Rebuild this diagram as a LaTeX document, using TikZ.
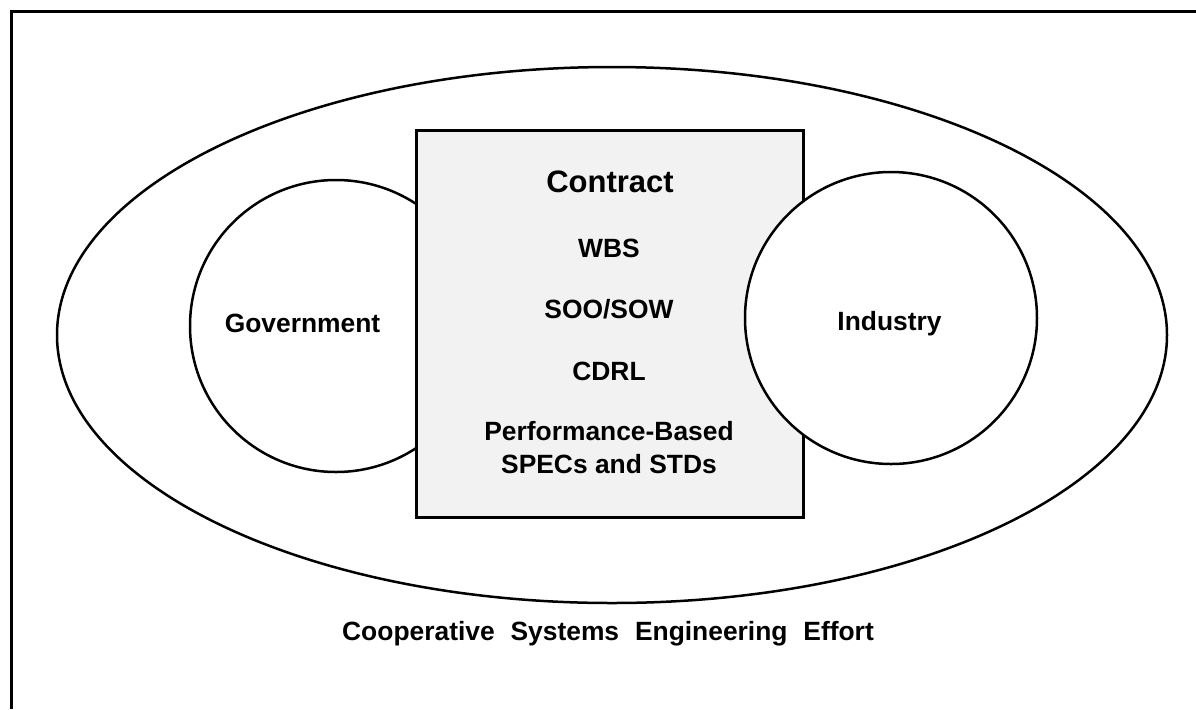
\documentclass[tikz,border=0pt]{standalone}
\usepackage{fontspec}
\setmainfont{Liberation Sans}
\usetikzlibrary{shapes.geometric}
\begin{document}
\begin{tikzpicture}[x=0.5pt,y=-0.5pt,
  outline/.style={draw=black,line width=1.25pt,inner sep=0pt},
  lbl/.style={font=\bfseries\fontsize{13.2}{15}\selectfont,inner sep=0pt,anchor=base},
  big/.style={font=\bfseries\fontsize{15.5}{18}\selectfont,inner sep=0pt,anchor=base}]
\useasboundingbox (0,0) rectangle (1196,709);
\coordinate (frameTR) at (1196,11);
\coordinate (frameTL) at (11,11);
\coordinate (frameBL) at (11,709);
\draw[line width=1.5pt,line join=miter] (frameTR) -- (frameTL) -- (frameBL);
\node[ellipse,outline,minimum width=555pt,minimum height=268pt] (effort) at (612,335) {};
\node[circle,outline,fill=white,minimum size=146pt] (gov) at (336,326) {};
\node[draw=black,line width=1.5pt,fill=black!5,minimum width=193.5pt,minimum height=193.5pt,inner sep=0pt] (contract) at (609.5,323.5) {};
\node[circle,outline,fill=white,minimum size=146pt] (ind) at (891,318) {};
\node[big] (tcontract) at (610,192) {Contract};
\node[lbl] (twbs) at (609,257) {WBS};
\node[lbl] (tsoo) at (609,318) {SOO/SOW};
\node[lbl] (tcdrl) at (609,380) {CDRL};
\node[lbl] (tperf) at (609,440) {Performance-Based};
\node[lbl] (tspec) at (609,473) {SPECs and STDs};
\node[lbl] (tgov) at (302.5,332) {Government};
\node[lbl] (tind) at (889.5,330) {Industry};
\node[lbl] (tcse) at (608,640) {Cooperative\hspace{0.6em}Systems\hspace{0.6em}Engineering\hspace{0.6em}Effort};
\end{tikzpicture}
\end{document}
